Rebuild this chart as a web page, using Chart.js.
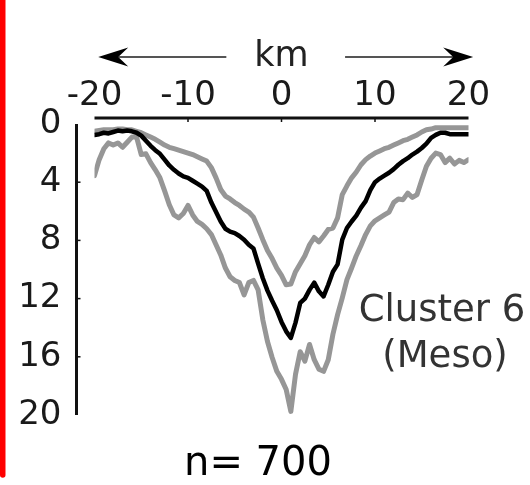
<!DOCTYPE html>
<html>
<head>
<meta charset="utf-8">
<script src="https://cdn.jsdelivr.net/npm/chart.js@4/dist/chart.umd.min.js"></script>
<style>
  html, body { margin: 0; padding: 0; background: #fff; }
</style>
</head>
<body>
<canvas id="profile" width="530" height="485"></canvas>
<script>
// ================================================
//  Depth profile across the structure (Cluster 6)
// ================================================

// distance from centre (km), one sample every 0.5 km
const KM = [
  -20, -19.5, -19, -18.5, -18, -17.5, -17, -16.5, -16, -15.5,
  -15, -14.5, -14, -13.5, -13, -12.5, -12, -11.5, -11, -10.5,
  -10, -9.5, -9, -8.5, -8, -7.5, -7, -6.5, -6, -5.5,
  -5, -4.5, -4, -3.5, -3, -2.5, -2, -1.5, -1, -0.5,
  0, 0.5, 1, 1.5, 2, 2.5, 3, 3.5, 4, 4.5,
  5, 5.5, 6, 6.5, 7, 7.5, 8, 8.5, 9, 9.5,
  10, 10.5, 11, 11.5, 12, 12.5, 13, 13.5, 14, 14.5,
  15, 15.5, 16, 16.5, 17, 17.5, 18, 18.5, 19, 19.5, 20
];

// median depth (black)
const MEDIAN = [
  0.75, 0.7, 0.6, 0.65, 0.55, 0.45, 0.5, 0.45, 0.5, 0.6,
  0.8, 1.15, 1.5, 1.8, 2.05, 2.45, 2.85, 3.15, 3.4, 3.6,
  3.7, 3.9, 4.1, 4.3, 4.6, 5.4, 6.05, 6.7, 7.2, 7.4,
  7.5, 7.7, 7.95, 8.3, 8.55, 9.6, 10.6, 11.45, 12.15, 12.8,
  13.6, 14.25, 14.7, 13.65, 12.3, 12.0, 11.4, 10.9, 11.5, 11.85,
  11.05, 10.15, 9.65, 7.95, 7.15, 6.7, 6.3, 5.75, 5.3, 4.55,
  4.0, 3.75, 3.55, 3.35, 3.1, 2.8, 2.55, 2.35, 2.1, 1.9,
  1.65, 1.35, 0.95, 0.75, 0.6, 0.6, 0.7, 0.7, 0.7, 0.7, 0.7
];

// shallow envelope (grey, above the median)
const UPPER = [
  0.5, 0.45, 0.4, 0.4, 0.4, 0.35, 0.35, 0.4, 0.4, 0.5,
  0.6, 0.75, 0.9, 1.05, 1.25, 1.45, 1.6, 1.7, 1.8, 1.9,
  2.0, 2.1, 2.25, 2.4, 2.55, 3.0, 3.7, 4.5, 4.95, 5.15,
  5.4, 5.6, 5.85, 6.05, 6.4, 7.15, 7.95, 8.7, 9.25, 9.9,
  10.4, 11.05, 11.0, 10.15, 9.6, 9.05, 8.3, 7.8, 8.1, 7.7,
  7.25, 7.15, 6.45, 4.85, 4.25, 3.7, 3.3, 2.8, 2.45, 2.2,
  2.0, 1.85, 1.7, 1.6, 1.45, 1.3, 1.15, 1.05, 0.9, 0.75,
  0.55, 0.4, 0.35, 0.25, 0.25, 0.25, 0.25, 0.25, 0.25, 0.25, 0.25
];

// deep envelope (grey, below the median)
const LOWER = [
  3.55, 2.45, 1.7, 1.3, 1.45, 1.3, 1.6, 1.25, 0.9, 0.9,
  2.1, 2.05, 2.65, 3.15, 3.7, 4.6, 5.55, 6.25, 6.45, 6.15,
  5.6, 6.25, 6.7, 6.9, 7.2, 7.6, 8.3, 9.0, 9.9, 10.5,
  10.75, 10.9, 11.75, 10.9, 10.75, 11.4, 13.45, 14.95, 16.05, 17.0,
  17.55, 18.25, 19.75, 17.2, 15.65, 16.3, 15.15, 16.2, 16.85, 17.0,
  16.2, 14.45, 13.1, 11.95, 10.7, 9.9, 9.05, 8.35, 7.6, 7.0,
  6.65, 6.45, 6.25, 6.05, 5.4, 5.15, 5.2, 4.75, 5.05, 4.85,
  3.85, 2.9, 2.35, 2.0, 2.1, 2.65, 2.35, 2.75, 2.5, 2.65, 2.45
];

const X_TICKS = [-20, -10, 0, 10, 20];
const Y_TICKS = [0, 4, 8, 12, 16, 20];
const X_MINOR_MARKS = [-10, 0, 10];
const Y_MINOR_MARKS = [4, 8, 12, 16];

const AXIS_TITLE = 'km';
const ARROW_LEFT  = [-5.9, -19.6];   // tail, tip (km)
const ARROW_RIGHT = [6.8, 20.5];
const CLUSTER_LABEL = ['Cluster 6', '(Meso)'];
const COUNT_LABEL = 'n= 700';

const FONT = '"DejaVu Sans", Verdana, sans-serif';

const pairs = ys => KM.map((k, i) => ({ x: k, y: ys[i] }));

// ------------------------------------------------
// helpers
// ------------------------------------------------
function segment(ctx, x0, y0, x1, y1) {
    ctx.beginPath();
    ctx.moveTo(x0, y0);
    ctx.lineTo(x1, y1);
    ctx.stroke();
}

function arrow(ctx, xTail, xTip, yy) {
    const dir = Math.sign(xTip - xTail);
    const len = 30, half = 9.5, back = 20;
    ctx.strokeStyle = '#555';
    ctx.lineWidth = 2;
    segment(ctx, xTail, yy, xTip - dir * back, yy);
    ctx.fillStyle = '#000';
    ctx.beginPath();
    ctx.moveTo(xTip, yy);
    ctx.lineTo(xTip - dir * len, yy - half);
    ctx.lineTo(xTip - dir * back, yy);
    ctx.lineTo(xTip - dir * len, yy + half);
    ctx.closePath();
    ctx.fill();
}

// spines, arrows and free labels
const decor = {
    id: 'decor',
    afterDraw(chart) {
        const { ctx, chartArea: a, scales: { x, y } } = chart;
        ctx.save();

        // red frame edge on the left
        ctx.fillStyle = '#ff0000';
        ctx.fillRect(0, 0, 5.5, 475);
        ctx.beginPath();
        ctx.arc(2.75, 475, 2.75, 0, Math.PI);
        ctx.fill();

        ctx.strokeStyle = '#111';
        ctx.lineWidth = 3;

        // top spine (offset above the plot)
        const sy = a.top - 6;
        segment(ctx, x.left, sy, x.right, sy);
        ctx.lineWidth = 1.5;
        X_MINOR_MARKS.forEach(v => {
            const px = x.getPixelForValue(v);
            segment(ctx, px, sy, px, sy + 4);
        });

        // left spine (offset left of the plot)
        const sx = a.left - 18;
        ctx.lineWidth = 3;
        segment(ctx, sx, y.getPixelForValue(0), sx, y.getPixelForValue(20));
        ctx.lineWidth = 1.5;
        Y_MINOR_MARKS.forEach(v => {
            const py = y.getPixelForValue(v);
            segment(ctx, sx, py, sx + 4, py);
        });

        // km arrows
        arrow(ctx, x.getPixelForValue(ARROW_LEFT[0]),  x.getPixelForValue(ARROW_LEFT[1]),  57);
        arrow(ctx, x.getPixelForValue(ARROW_RIGHT[0]), x.getPixelForValue(ARROW_RIGHT[1]), 57);

        ctx.textAlign = 'center';
        ctx.textBaseline = 'alphabetic';
        ctx.fillStyle = '#222';
        ctx.font = `35px ${FONT}`;
        ctx.fillText(AXIS_TITLE, x.getPixelForValue(0), 66);

        ctx.fillStyle = '#333';
        ctx.font = `37px ${FONT}`;
        ctx.fillText(CLUSTER_LABEL[0], 442, 321);
        ctx.fillText(CLUSTER_LABEL[1], 445, 367);

        ctx.fillStyle = '#000';
        ctx.font = `40px ${FONT}`;
        ctx.fillText(COUNT_LABEL, 258, 475);

        ctx.restore();
    }
};

const serie = (data, color, width) => ({
    data,
    borderColor: color,
    borderWidth: width,
    borderJoinStyle: 'round',
    borderCapStyle: 'round',
    pointRadius: 0,
    tension: 0,
    fill: false
});

new Chart(document.getElementById('profile').getContext('2d'), {
    type: 'line',
    data: {
        datasets: [
            serie(pairs(MEDIAN), '#000', 4.5),
            serie(pairs(UPPER), 'rgb(150,150,150)', 5),
            serie(pairs(LOWER), 'rgb(150,150,150)', 5)
        ]
    },
    options: {
        responsive: false,
        animation: false,
        devicePixelRatio: 1,
        layout: { padding: { left: 0, top: 0, right: 61.5, bottom: 70 } },
        plugins: {
            legend: { display: false },
            tooltip: { enabled: false }
        },
        scales: {
            x: {
                type: 'linear',
                position: 'top',
                min: -20, max: 20,
                afterFit: s => { s.height = 124; },
                afterBuildTicks: s => { s.ticks = X_TICKS.map(v => ({ value: v })); },
                grid: { display: false, drawTicks: false },
                border: { display: false },
                ticks: {
                    color: '#1a1a1a',
                    font: { family: FONT, size: 34 },
                    padding: 7,
                    maxRotation: 0,
                    autoSkip: false
                }
            },
            y: {
                type: 'linear',
                reverse: true,
                min: 0, max: 20,
                afterFit: s => { s.width = 94.5; },
                afterBuildTicks: s => { s.ticks = Y_TICKS.map(v => ({ value: v })); },
                grid: { display: false, drawTicks: false },
                border: { display: false },
                ticks: {
                    color: '#1a1a1a',
                    font: { family: FONT, size: 34 },
                    padding: 33,
                    autoSkip: false
                }
            }
        }
    },
    plugins: [decor]
});
</script>
</body>
</html>
